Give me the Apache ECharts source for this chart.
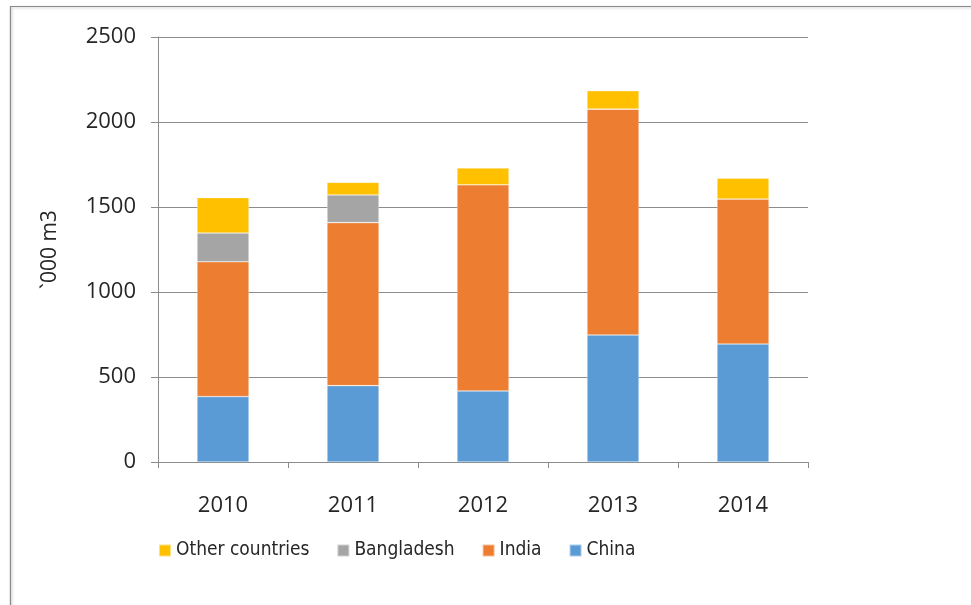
<!DOCTYPE html>
<html>
<head>
<meta charset="utf-8">
<script src="https://cdn.jsdelivr.net/npm/echarts@6/dist/echarts.min.js"></script>
<style>html,body{margin:0;padding:0;background:#fff}#c{width:971px;height:605px}</style>
</head>
<body>
<div id="c"></div>
<script>
var years = ['2010', '2011', '2012', '2013', '2014'];
var china = [385, 449, 418, 747, 694];
var india = [793, 959, 1213, 1329, 853];
var bangladesh = [169, 163, 0, 0, 0];
var other = [208, 74, 98, 108, 122];
var yTicks = [0, 500, 1000, 1500, 2000, 2500];
var yName = '`000 m3';

var FONT = 'Open Sans';
var NARROW = '"DejaVu Sans Condensed", "Open Sans"';
var chart = echarts.init(document.getElementById('c'), null, {renderer: 'canvas'});
function s(name, data, color) {
  return {name: name, type: 'bar', stack: 't', data: data, barWidth: '40%',
    itemStyle: {color: color, borderColor: 'rgba(255,255,255,0.5)', borderWidth: 0.6}};
}
chart.setOption({
  animation: false,
  backgroundColor: '#fff',
  textStyle: {fontFamily: FONT},
  graphic: [{type: 'rect', shape: {x: 10.5, y: 6.5, width: 1000, height: 700},
    style: {fill: 'none', stroke: '#8a8a8a', lineWidth: 1.2, shadowBlur: 3, shadowColor: 'rgba(0,0,0,0.25)', shadowOffsetX: 1, shadowOffsetY: 1}, z: -1}],
  grid: {left: 158, right: 163, top: 37, bottom: 143},
  legend: {
    left: 153, top: 536, itemWidth: 12, itemHeight: 12, itemGap: 27,
    icon: 'rect',
    textStyle: {fontSize: 19, color: '#262626', fontFamily: NARROW},
    data: ['Other countries', 'Bangladesh', 'India', 'China']
  },
  xAxis: {
    type: 'category', data: years,
    axisLine: {lineStyle: {color: '#8c8c8c', width: 1}},
    axisTick: {show: true, length: 6, lineStyle: {color: '#8c8c8c'}},
    axisLabel: {fontSize: 22, color: '#262626', margin: 33, fontFamily: FONT}
  },
  yAxis: {
    type: 'value', min: yTicks[0], max: yTicks[yTicks.length - 1], interval: 500,
    name: yName, nameLocation: 'middle', nameGap: 97, nameRotate: 90,
    nameTextStyle: {fontSize: 21, color: '#262626', fontFamily: FONT},
    axisLine: {show: true, lineStyle: {color: '#8c8c8c'}},
    axisTick: {show: true, length: 7, lineStyle: {color: '#8c8c8c'}},
    axisLabel: {fontSize: 22, color: '#262626', margin: 22, fontFamily: FONT,
      formatter: function (v) { return String(v); }},
    splitLine: {lineStyle: {color: '#8c8c8c', width: 1}}
  },
  series: [
    s('China', china, '#5B9BD5'),
    s('India', india, '#ED7D31'),
    s('Bangladesh', bangladesh, '#A5A5A5'),
    s('Other countries', other, '#FFC000')
  ]
});
</script>
</body>
</html>
